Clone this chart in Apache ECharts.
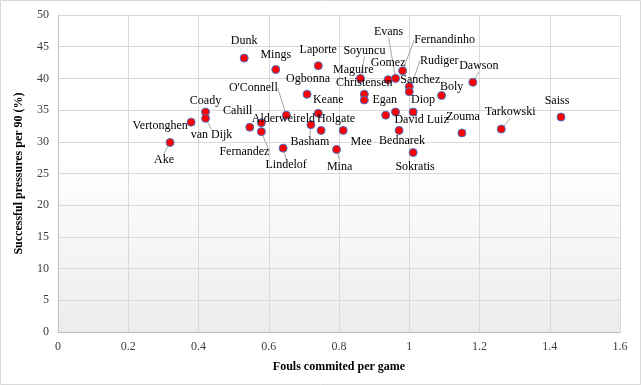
<!DOCTYPE html>
<html>
<head>
<meta charset="utf-8">
<script src="https://cdn.jsdelivr.net/npm/echarts@6/dist/echarts.min.js"></script>
<style>
html,body{margin:0;padding:0;background:#fff;}
#chart{width:641px;height:385px;}
</style>
</head>
<body>
<div id="chart"></div>
<script>
// ---- data ----
const playerNames = ["Dunk","Mings","Laporte","Ogbonna","O'Connell","Keane","Coady","van Dijk","Vertonghen","Ake",
  "Cahill","Alderweireld","Fernandez","Lindelof","Basham","Holgate","Mee","Mina","Soyuncu","Maguire",
  "Christensen","Gomez","Evans","Fernandinho","Sanchez","Rudiger","Egan","David Luiz","Diop","Bednarek",
  "Sokratis","Boly","Dawson","Zouma","Tarkowski","Saiss"];
const foulsPerGame = [0.530,0.620,0.741,0.709,0.650,0.741,0.420,0.420,0.379,0.319,
  0.546,0.579,0.579,0.641,0.720,0.749,0.812,0.793,0.861,0.872,
  0.872,0.940,0.961,0.981,1.000,1.000,0.933,0.961,1.011,0.971,
  1.011,1.092,1.181,1.150,1.262,1.432];
const pressuresPer90 = [43.2,41.4,42.0,37.5,34.2,34.5,34.7,33.7,33.1,29.9,
  32.3,33.0,31.6,29.0,32.7,31.8,31.8,28.8,40.0,37.5,
  36.6,39.8,40.0,41.2,38.7,37.9,34.2,34.7,34.7,31.8,
  28.3,37.3,39.4,31.4,32.0,33.9];
const xAxisTitle = "Fouls commited per game";
const yAxisTitle = "Successful pressures per 90 (%)";

// ---- label placement (styling only: pixel offsets from each marker) ----
const labelOffsets = {
  "Dunk":[0,-17],"Mings":[0,-15],"Laporte":[0,-16],"Ogbonna":[1,-15],"O'Connell":[-33,-27],
  "Keane":[10,-13],"Coady":[0,-11],"van Dijk":[6,17],"Vertonghen":[-31,4],"Ake":[-6,17],
  "Cahill":[-12,-16],"Alderweireld":[22,-4],"Fernandez":[-17,20],"Lindelof":[3,17],"Basham":[-1,17],
  "Holgate":[15,-12],"Mee":[18,11],"Mina":[3,17],"Soyuncu":[4,-28],"Maguire":[-11,-24],
  "Christensen":[0,-17],"Gomez":[0,-17],"Evans":[-7,-47],"Fernandinho":[42,-31],"Sanchez":[11,-7],
  "Rudiger":[30,-31],"Egan":[-1,-15],"David Luiz":[26,8],"Diop":[10,-12],"Bednarek":[3,10],
  "Sokratis":[2,14],"Boly":[10,-9],"Dawson":[6,-16],"Zouma":[1,-16],"Tarkowski":[9,-17],"Saiss":[-4,-16]
};
const leaderNames = ["O'Connell","van Dijk","Ake","Fernandez","Lindelof","Basham","Mina","Soyuncu",
  "Evans","Fernandinho","Rudiger","Dawson","Tarkowski"];

const FONT = "'Liberation Serif','Times New Roman',serif";
const seriesData = playerNames.map((n,i)=>({
  name:n,
  value:[foulsPerGame[i], pressuresPer90[i]],
  labelLine:{show: leaderNames.indexOf(n) >= 0}
}));

const chart = echarts.init(document.getElementById('chart'), null, {renderer:'canvas'});
chart.setOption({
  animation:false,
  backgroundColor:'#ffffff',
  graphic:[{type:'rect',shape:{x:0.5,y:0.5,width:640,height:384},style:{fill:'none',stroke:'#d9d9d9',lineWidth:1},silent:true,z:-1}],
  grid:{left:58,right:21,top:15,bottom:53,show:true,borderWidth:0,
    backgroundColor:{type:'linear',x:0,y:0,x2:0,y2:1,colorStops:[{offset:0,color:'#ffffff'},{offset:0.45,color:'#ffffff'},{offset:1,color:'#ececec'}]}},
  xAxis:{type:'value',min:0,max:1.6,interval:0.2,
    name:xAxisTitle,nameLocation:'middle',nameGap:29,
    nameTextStyle:{fontFamily:FONT,fontSize:12,fontWeight:'bold',color:'#000'},
    axisLine:{show:true,lineStyle:{color:'#bfbfbf'}},axisTick:{show:false},
    axisLabel:{fontFamily:FONT,fontSize:12,color:'#404040',margin:9},
    splitLine:{show:true,lineStyle:{color:'#d9d9d9'}}},
  yAxis:{type:'value',min:0,max:50,interval:5,
    name:yAxisTitle,nameLocation:'middle',nameGap:33,nameRotate:90,
    nameTextStyle:{fontFamily:FONT,fontSize:12,fontWeight:'bold',color:'#000'},
    axisLine:{show:true,lineStyle:{color:'#bfbfbf'}},axisTick:{show:false},
    axisLabel:{fontFamily:FONT,fontSize:12,color:'#404040',margin:9},
    splitLine:{show:true,lineStyle:{color:'#d9d9d9'}}},
  series:[{
    type:'scatter',
    data:seriesData,
    symbol:'circle',symbolSize:8,
    itemStyle:{color:'#ff0000',borderColor:'#4472c4',borderWidth:1,opacity:1},
    label:{show:true,formatter:'{b}',fontFamily:FONT,fontSize:12,color:'#000'},
    labelLine:{show:false,lineStyle:{color:'#a6a6a6',width:1}},
    labelLayout:function(p){
      const n = playerNames[p.dataIndex];
      const o = labelOffsets[n] || [0,-15];
      const cx = p.rect.x + p.rect.width/2, cy = p.rect.y + p.rect.height/2;
      return {x:cx+o[0], y:cy+o[1], align:'center', verticalAlign:'middle', hideOverlap:false};
    }
  }]
});
</script>
</body>
</html>
